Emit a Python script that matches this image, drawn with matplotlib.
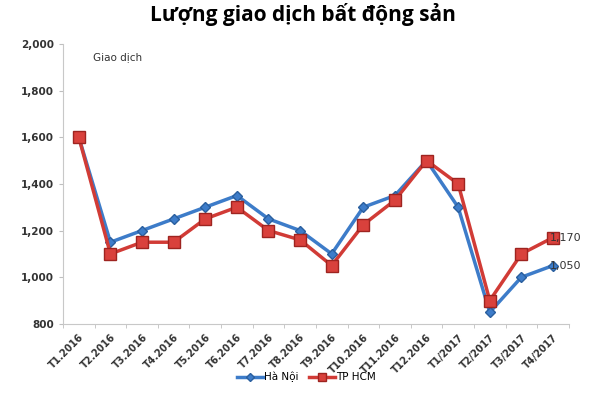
import matplotlib.pyplot as plt
import numpy as np

# Données
thang = ['T1.2016', 'T2.2016', 'T3.2016', 'T4.2016', 'T5.2016', 'T6.2016',
         'T7.2016', 'T8.2016', 'T9.2016', 'T10.2016', 'T11.2016', 'T12.2016',
         'T1/2017', 'T2/2017', 'T3/2017', 'T4/2017']
ha_noi = [1600, 1150, 1200, 1250, 1300, 1350, 1250, 1200, 1100, 1300, 1350, 1500,
          1300, 850, 1000, 1050]
tp_hcm = [1600, 1100, 1150, 1150, 1250, 1300, 1200, 1160, 1050, 1225, 1330, 1500,
          1400, 900, 1100, 1170]

x = np.arange(len(thang))

fig = plt.figure(figsize=(6, 3.95), dpi=100)
ax = fig.add_axes([0.105, 0.180, 0.843, 0.709])

ax.plot(x, ha_noi, color='#3d7cc9', lw=2.5, marker='D', ms=5,
        mfc='#3d7cc9', mec='#2a5f9e', label='Hà Nội', zorder=2)
ax.plot(x, tp_hcm, color='#d13b36', lw=2.5, marker='s', ms=8,
        mfc='#d9413c', mec='#9e2420', label='TP HCM', zorder=3)

ax.annotate('1,170', (x[-1], tp_hcm[-1]), xytext=(-2, 0), textcoords='offset points',
            ha='left', va='center', fontsize=8, color='#333333', zorder=4)
ax.annotate('1,050', (x[-1], ha_noi[-1]), xytext=(-2, 0), textcoords='offset points',
            ha='left', va='center', fontsize=8, color='#333333', zorder=4)

ax.set_xlim(-0.5, len(thang) - 0.5)
ax.set_ylim(800, 2000)
ax.set_yticks(range(800, 2001, 200))
ax.set_yticklabels([f'{v:,}' for v in range(800, 2001, 200)],
                   fontsize=7.5, fontweight='bold', color='#333333')
ax.set_xticks(x)
ax.set_xticklabels(thang, rotation=45, ha='right', rotation_mode='anchor',
                   fontsize=7, fontweight='bold', color='#333333')
ax.set_xticks(np.arange(-0.5, len(thang), 1), minor=True)
ax.tick_params(axis='x', which='major', length=0, pad=6)
ax.tick_params(axis='x', which='minor', length=3, color='#bfbfbf')
ax.tick_params(axis='y', length=3, color='#bfbfbf')

for s in ['top', 'right']:
    ax.spines[s].set_visible(False)
for s in ['left', 'bottom']:
    ax.spines[s].set_color('#c8c8c8')

ax.text(0.06, 0.97, 'Giao dịch', transform=ax.transAxes, fontsize=7.5,
        va='top', ha='left', color='#333333')

fig.suptitle('Lượng giao dịch bất động sản', x=0.505, y=0.993,
             fontsize=15, fontweight='bold', family='Open Sans')

fig.legend(loc='center', bbox_to_anchor=(0.51, 0.045), ncol=2, frameon=False,
           fontsize=7.5, handlelength=2.5, columnspacing=1.0, handletextpad=0.1,
           markerscale=0.75)

fig.savefig('out.png', dpi=100)
